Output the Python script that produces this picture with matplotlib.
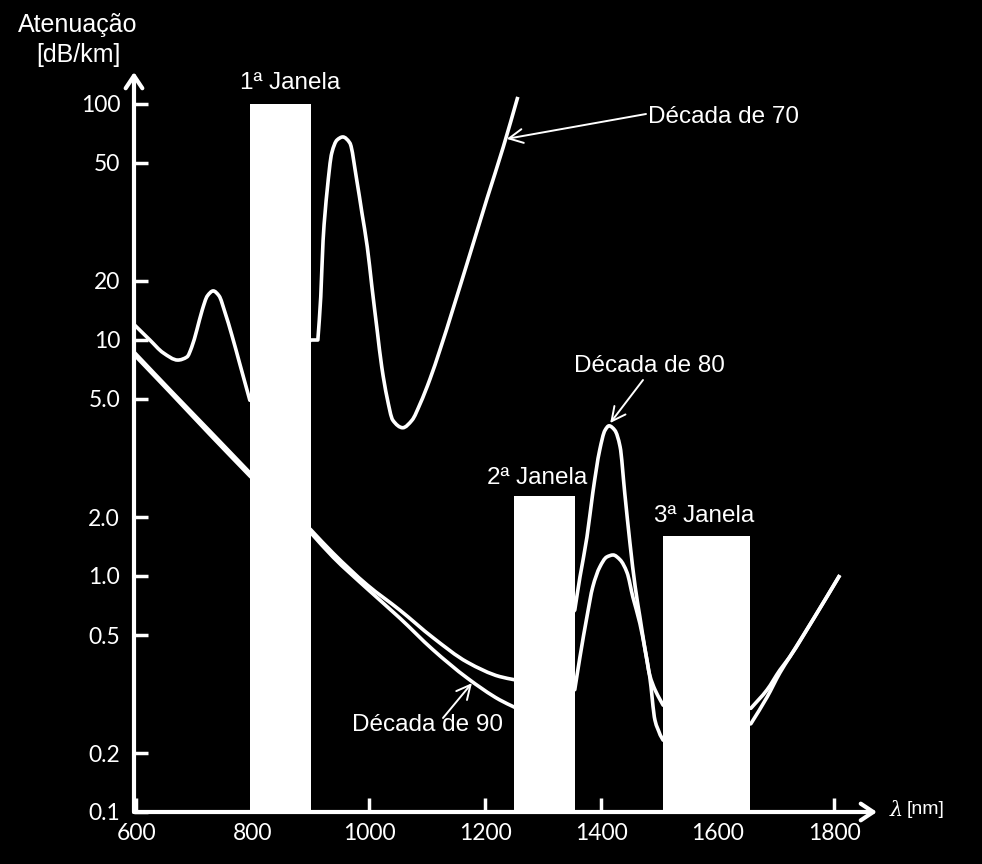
import matplotlib
matplotlib.use("Agg")
import matplotlib.pyplot as plt
import numpy as np
from matplotlib.path import Path
from matplotlib.patches import PathPatch

# attenuation curves: wavelength [nm], attenuation [dB/km]
wl_70 = [597, 623, 646, 671, 687, 695, 704, 713, 722, 732, 742, 752, 764, 778, 795,
         900, 912, 917, 921, 928, 936, 945, 955, 967, 979, 988, 997, 1005, 1014, 1022,
         1031, 1041, 1058, 1074, 1088, 1105, 1122, 1169, 1203, 1231, 1256]
att_70 = [11.9, 10.0, 8.6, 7.9, 8.2, 9.2, 11.3, 14.2, 16.8, 17.8, 16.8, 13.9, 10.6, 7.5, 4.95,
          10.0, 10.0, 16.6, 27.4, 40.4, 56.3, 65.5, 67.9, 63.3, 43.7, 33.8, 26.1, 18.7, 11.25, 7.27,
          5.1, 4.24, 4.0, 4.24, 4.82, 6.33, 8.89, 23.0, 37.9, 60.3, 108.7]
corners_70 = [16]  # end of the flat step at 10 dB/km

wl_80 = [597, 658, 726, 795, 900, 938, 997, 1053, 1110, 1169, 1225, 1251,
         1354, 1363, 1375, 1385, 1397, 1406, 1413, 1423, 1432, 1440, 1449, 1458, 1466,
         1475, 1483, 1492, 1501, 1506, 1657, 1685, 1707, 1724, 1767, 1810]
att_80 = [8.6, 5.55, 3.9, 2.82, 1.72, 1.31, 0.90, 0.67, 0.49, 0.405, 0.362, 0.353,
          0.67, 0.99, 1.58, 2.41, 3.37, 3.92, 4.06, 3.92, 3.45, 2.41, 1.47, 0.88, 0.62,
          0.446, 0.362, 0.258, 0.23, 0.221, 0.251, 0.309, 0.373, 0.422, 0.62, 1.01]

wl_90 = [597, 658, 726, 795, 900, 938, 997, 1053, 1110, 1169, 1225, 1251,
         1354, 1363, 1375, 1385, 1397, 1409, 1420, 1432, 1444, 1454, 1466,
         1475, 1483, 1492, 1501, 1506, 1657, 1685, 1707, 1724, 1767, 1810]
att_90 = [8.35, 5.4, 3.8, 2.75, 1.66, 1.25, 0.86, 0.61, 0.446, 0.358, 0.302, 0.285,
          0.327, 0.422, 0.62, 0.88, 1.11, 1.25, 1.28, 1.21, 1.04, 0.78, 0.574,
          0.446, 0.366, 0.327, 0.302, 0.290, 0.283, 0.327, 0.381, 0.422, 0.62, 1.01]

# transmission windows
janela_left = [795, 1250, 1505]
janela_right = [900, 1355, 1655]
janela_top = [100, 2.35, 1.6]
janela_labels = ["1ª Janela", "2ª Janela", "3ª Janela"]

x_ticks = [600, 800, 1000, 1200, 1400, 1600, 1800]
y_ticks = [0.1, 0.2, 0.5, 1, 2, 5, 10, 20, 50, 100]
y_tick_labels = ["0.1", "0.2", "0.5", "1.0", "2.0", "5.0", "10", "20", "50", "100"]

# the y axis is not a true log axis: 1-2 and 5-10 get one step, 2-5 gets two
SCALE_LOG = np.log10([0.05, 0.1, 0.2, 0.5, 1, 2, 5, 10, 20, 50, 100, 200])
SCALE_POS = np.array([-1, 0, 1, 3, 4, 5, 7, 8, 9, 11, 12, 13], dtype=float)


def fwd(v):
    v = np.clip(np.asarray(v, dtype=float), 1e-9, None)
    return np.interp(np.log10(v), SCALE_LOG, SCALE_POS)


def inv(u):
    return 10 ** np.interp(np.asarray(u, dtype=float), SCALE_POS, SCALE_LOG)


def hidden_corners(x):
    # points on both sides of a stretch that runs behind a window bar
    out = []
    for i in range(len(x) - 1):
        for l, r in zip(janela_left, janela_right):
            if x[i] >= l - 5 and x[i + 1] <= r + 5:
                out += [i, i + 1]
    return out


def smooth_curve(x, y, corners=(), **kw):
    """Monotone cubic (pchip-like) Bezier path through the read points."""
    X = np.asarray(x, dtype=float)
    U = fwd(y)
    idx = sorted(set([0, len(X) - 1, *corners]))
    verts, codes = [(X[0], U[0])], [Path.MOVETO]
    for a, b in zip(idx[:-1], idx[1:]):
        xs, us = X[a:b + 1], U[a:b + 1]
        h = np.diff(xs)
        d = np.diff(us) / h
        m = np.empty(len(xs))
        m[0], m[-1] = d[0], d[-1]
        for k in range(1, len(xs) - 1):
            if d[k - 1] * d[k] <= 0:
                m[k] = 0.0
            else:
                w1, w2 = 2 * h[k] + h[k - 1], h[k] + 2 * h[k - 1]
                m[k] = (w1 + w2) / (w1 / d[k - 1] + w2 / d[k])
        for k in range(len(xs) - 1):
            verts += [(xs[k] + h[k] / 3, us[k] + m[k] * h[k] / 3),
                      (xs[k + 1] - h[k] / 3, us[k + 1] - m[k + 1] * h[k] / 3),
                      (xs[k + 1], us[k + 1])]
            codes += [Path.CURVE4] * 3
    verts = np.array(verts)
    verts[:, 1] = inv(verts[:, 1])
    return PathPatch(Path(verts, codes), fill=False, **kw)


W, H = 982, 864


def px(x, y):
    return (x / W, 1 - y / H)


SANS = ["Liberation Sans", "DejaVu Sans"]

fig = plt.figure(figsize=(W / 100, H / 100), dpi=100, facecolor="black")
ax = fig.add_axes([134 / W, (H - 812) / H, (877 - 134) / W, (812 - 72) / H])
ax.set_facecolor("black")
ax.set_yscale("function", functions=(fwd, inv))
ax.set_xlim(595.7, 1874)
ax.set_ylim(0.1, inv(740 / 59))

for wl, att, cn in [(wl_70, att_70, corners_70), (wl_80, att_80, []), (wl_90, att_90, [])]:
    ax.add_patch(smooth_curve(wl, att, cn + hidden_corners(wl), edgecolor="white", lw=2.6,
                              joinstyle="round", capstyle="butt", zorder=2))

for l, r, top in zip(janela_left, janela_right, janela_top):
    ax.bar(l, top - 0.1, width=r - l, bottom=0.1, align="edge", color="white",
           edgecolor="none", zorder=3)

for s in ax.spines.values():
    s.set_visible(False)

ax.set_xticks(x_ticks)
ax.set_xticklabels([str(t) for t in x_ticks])
ax.set_yticks(y_ticks)
ax.set_yticklabels(y_tick_labels)
ax.minorticks_off()
ax.tick_params(axis="both", direction="in", length=10, width=2.5, colors="white",
               labelsize=16.5)
ax.tick_params(axis="y", pad=10)
ax.tick_params(axis="x", pad=8)
for lab in ax.get_xticklabels() + ax.get_yticklabels():
    lab.set_family(["Lato", "DejaVu Sans"])

# axis lines with open arrow heads
arrow_kw = dict(arrowstyle="->,head_length=0.45,head_width=0.3", color="white", lw=3,
                mutation_scale=20, shrinkA=0, shrinkB=0)
ax.annotate("", xy=(0, 1), xytext=(0, 0), xycoords="axes fraction",
            arrowprops=arrow_kw, zorder=5, annotation_clip=False)
ax.annotate("", xy=(1, 0), xytext=(0, 0), xycoords="axes fraction",
            arrowprops=arrow_kw, zorder=5, annotation_clip=False)

# window labels
for lab, pos in zip(janela_labels, [(290, 83), (537, 478), (704, 516)]):
    fig.text(*px(*pos), lab, color="white", fontsize=17.5, family=SANS,
             ha="center", va="center")

# decade labels and pointers
note_kw = dict(arrowstyle="->,head_length=0.5,head_width=0.25", color="white", lw=1.4,
               mutation_scale=20, shrinkA=0, shrinkB=0)
fig.text(*px(648, 117), "Década de 70", color="white", fontsize=17.5, family=SANS,
         ha="left", va="center")
ax.annotate("", xy=(1237, 66.4), xytext=px(646, 114), textcoords="figure fraction",
            arrowprops=note_kw)
fig.text(*px(649, 366), "Década de 80", color="white", fontsize=17.5, family=SANS,
         ha="center", va="center")
ax.annotate("", xy=(1415, 4.15), xytext=px(643, 380), textcoords="figure fraction",
            arrowprops=note_kw)
fig.text(*px(428, 725), "Década de 90", color="white", fontsize=17.5, family=SANS,
         ha="center", va="center")
ax.annotate("", xy=(1177, 0.344), xytext=px(443, 718), textcoords="figure fraction",
            arrowprops=note_kw)

# axis titles
fig.text(*px(78, 25), "Atenuação", color="white", fontsize=18, family=SANS,
         ha="center", va="center")
fig.text(*px(78, 55), "[dB/km]", color="white", fontsize=18, family=SANS,
         ha="center", va="center")
fig.text(*px(896, 811), "λ", color="white", fontsize=15, family=["DejaVu Serif"],
         style="italic", ha="center", va="center")
fig.text(*px(926, 810), "[nm]", color="white", fontsize=14, family=SANS,
         ha="center", va="center")

fig.savefig("out.png", dpi=100, facecolor="black")
